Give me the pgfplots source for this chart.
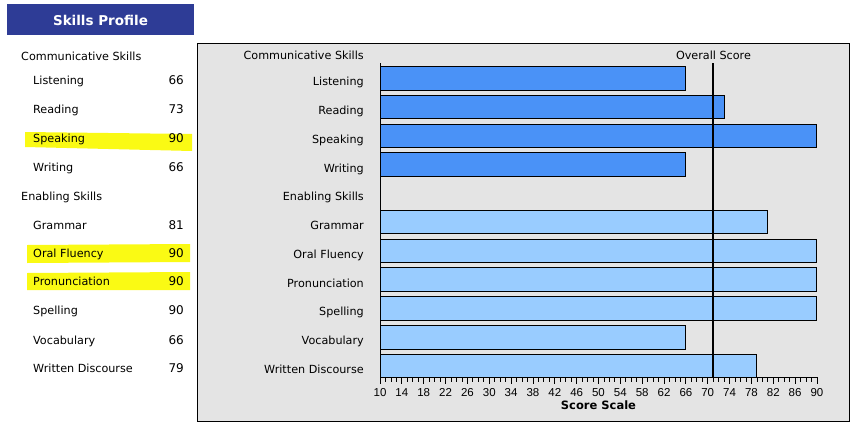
\documentclass[border=0pt]{standalone}
\usepackage{fontspec}
\setmainfont{DejaVu Sans}
\newfontfamily\arialf{Liberation Sans}
\usepackage{pgfplots}
\pgfplotsset{compat=1.18}

\definecolor{titleblue}{RGB}{46,60,150}
\definecolor{commblue}{RGB}{74,146,247}
\definecolor{enabblue}{RGB}{153,204,255}
\definecolor{panelgray}{RGB}{228,228,228}
\definecolor{hiyellow}{RGB}{250,250,20}

\newcommand{\lblfont}{\fontsize{11.2bp}{13bp}\selectfont}
\newcommand{\numfont}{\fontsize{12bp}{14bp}\selectfont}

\begin{document}
\begin{tikzpicture}
\path[use as bounding box] (0,0) rectangle (856bp,-425bp);

% title box
\fill[titleblue] (7bp,-4bp) rectangle (194bp,-35bp);
\node[white, font=\bfseries\fontsize{13.5bp}{16bp}\selectfont] at (100.5bp,-20bp) {Skills Profile};

% marker highlights
\fill[hiyellow] (25bp,-132bp) -- (192bp,-134bp) -- (192bp,-151bp) -- (25bp,-147bp) -- cycle;
\fill[hiyellow] (27bp,-245bp) -- (190bp,-244bp) -- (190bp,-262bp) -- (27bp,-263bp) -- cycle;
\fill[hiyellow] (27bp,-273bp) -- (190bp,-272bp) -- (190bp,-290bp) -- (27bp,-290bp) -- cycle;

% score list
\node[anchor=base west, inner sep=0pt, font=\lblfont] at (21bp,-60bp) {Communicative Skills};
\node[anchor=base west, inner sep=0pt, font=\lblfont] at (21bp,-200.7bp) {Enabling Skills};
\foreach \name/\val/\yb in {Listening/66/84.3, Reading/73/113.5, Speaking/90/142.5, Writing/66/171.5,
  Grammar/81/229.3, Oral Fluency/90/257.7, Pronunciation/90/285.5, Spelling/90/314.3,
  Vocabulary/66/344, Written Discourse/79/372.7}{
  \node[anchor=base west, inner sep=0pt, font=\lblfont] at (33bp,-\yb bp) {\name};
  \node[anchor=base east, inner sep=0pt, font=\numfont] at (184bp,-\yb bp) {\val};
}

% chart panel
\filldraw[fill=panelgray, draw=black, line width=1bp] (197bp,-43bp) rectangle (849bp,-421bp);

\begin{axis}[
  at={(380bp,-377.5bp)}, anchor=south west,
  scale only axis, width=437.8bp, height=314.5bp,
  xmin=10, xmax=90.15, ymin=-0.40, ymax=10.53,
  axis x line*=bottom, axis y line*=left,
  axis line style={-, line width=1bp, black},
  xtick={10,14,...,90}, minor x tick num=3,
  xtick align=outside, major tick length=6bp, minor tick length=4bp,
  tick style={black, line width=0.8bp},
  /pgf/number format/assume math mode=true,
  xticklabel style={font=\arialf\fontsize{11.5bp}{13bp}\selectfont, inner sep=0pt, anchor=base, yshift=-12.5bp},
  ytick={0,...,10}, ytick align=inside, y tick style={draw=none},
  yticklabels={Written Discourse, Vocabulary, Spelling, Pronunciation, Oral Fluency, Grammar,
    Enabling Skills, Writing, Speaking, Reading, Listening},
  yticklabel style={font=\lblfont, inner sep=0pt, anchor=base east, xshift=-16bp, yshift=-7.5bp},
]
\addplot[xbar, bar shift=0pt, bar width=0.82, fill=commblue, draw=black, line width=1bp]
  coordinates {(66,10) (73,9) (90,8) (66,7)};
\addplot[xbar, bar shift=0pt, bar width=0.82, fill=enabblue, draw=black, line width=1bp]
  coordinates {(81,5) (90,4) (90,3) (90,2) (66,1) (79,0)};
% overall score
\addplot[black, line width=2bp, no marks] coordinates {(71,-0.40) (71,10.53)};
\end{axis}

\node[anchor=base east, inner sep=0pt, font=\lblfont] at (364bp,-59bp) {Communicative Skills};
\node[anchor=base, inner sep=0pt, font=\lblfont] at (713.5bp,-59bp) {Overall Score};
\node[anchor=base, inner sep=0pt, font=\bfseries\fontsize{11.5bp}{13bp}\selectfont] at (598.5bp,-409bp) {Score Scale};
\end{tikzpicture}
\end{document}
